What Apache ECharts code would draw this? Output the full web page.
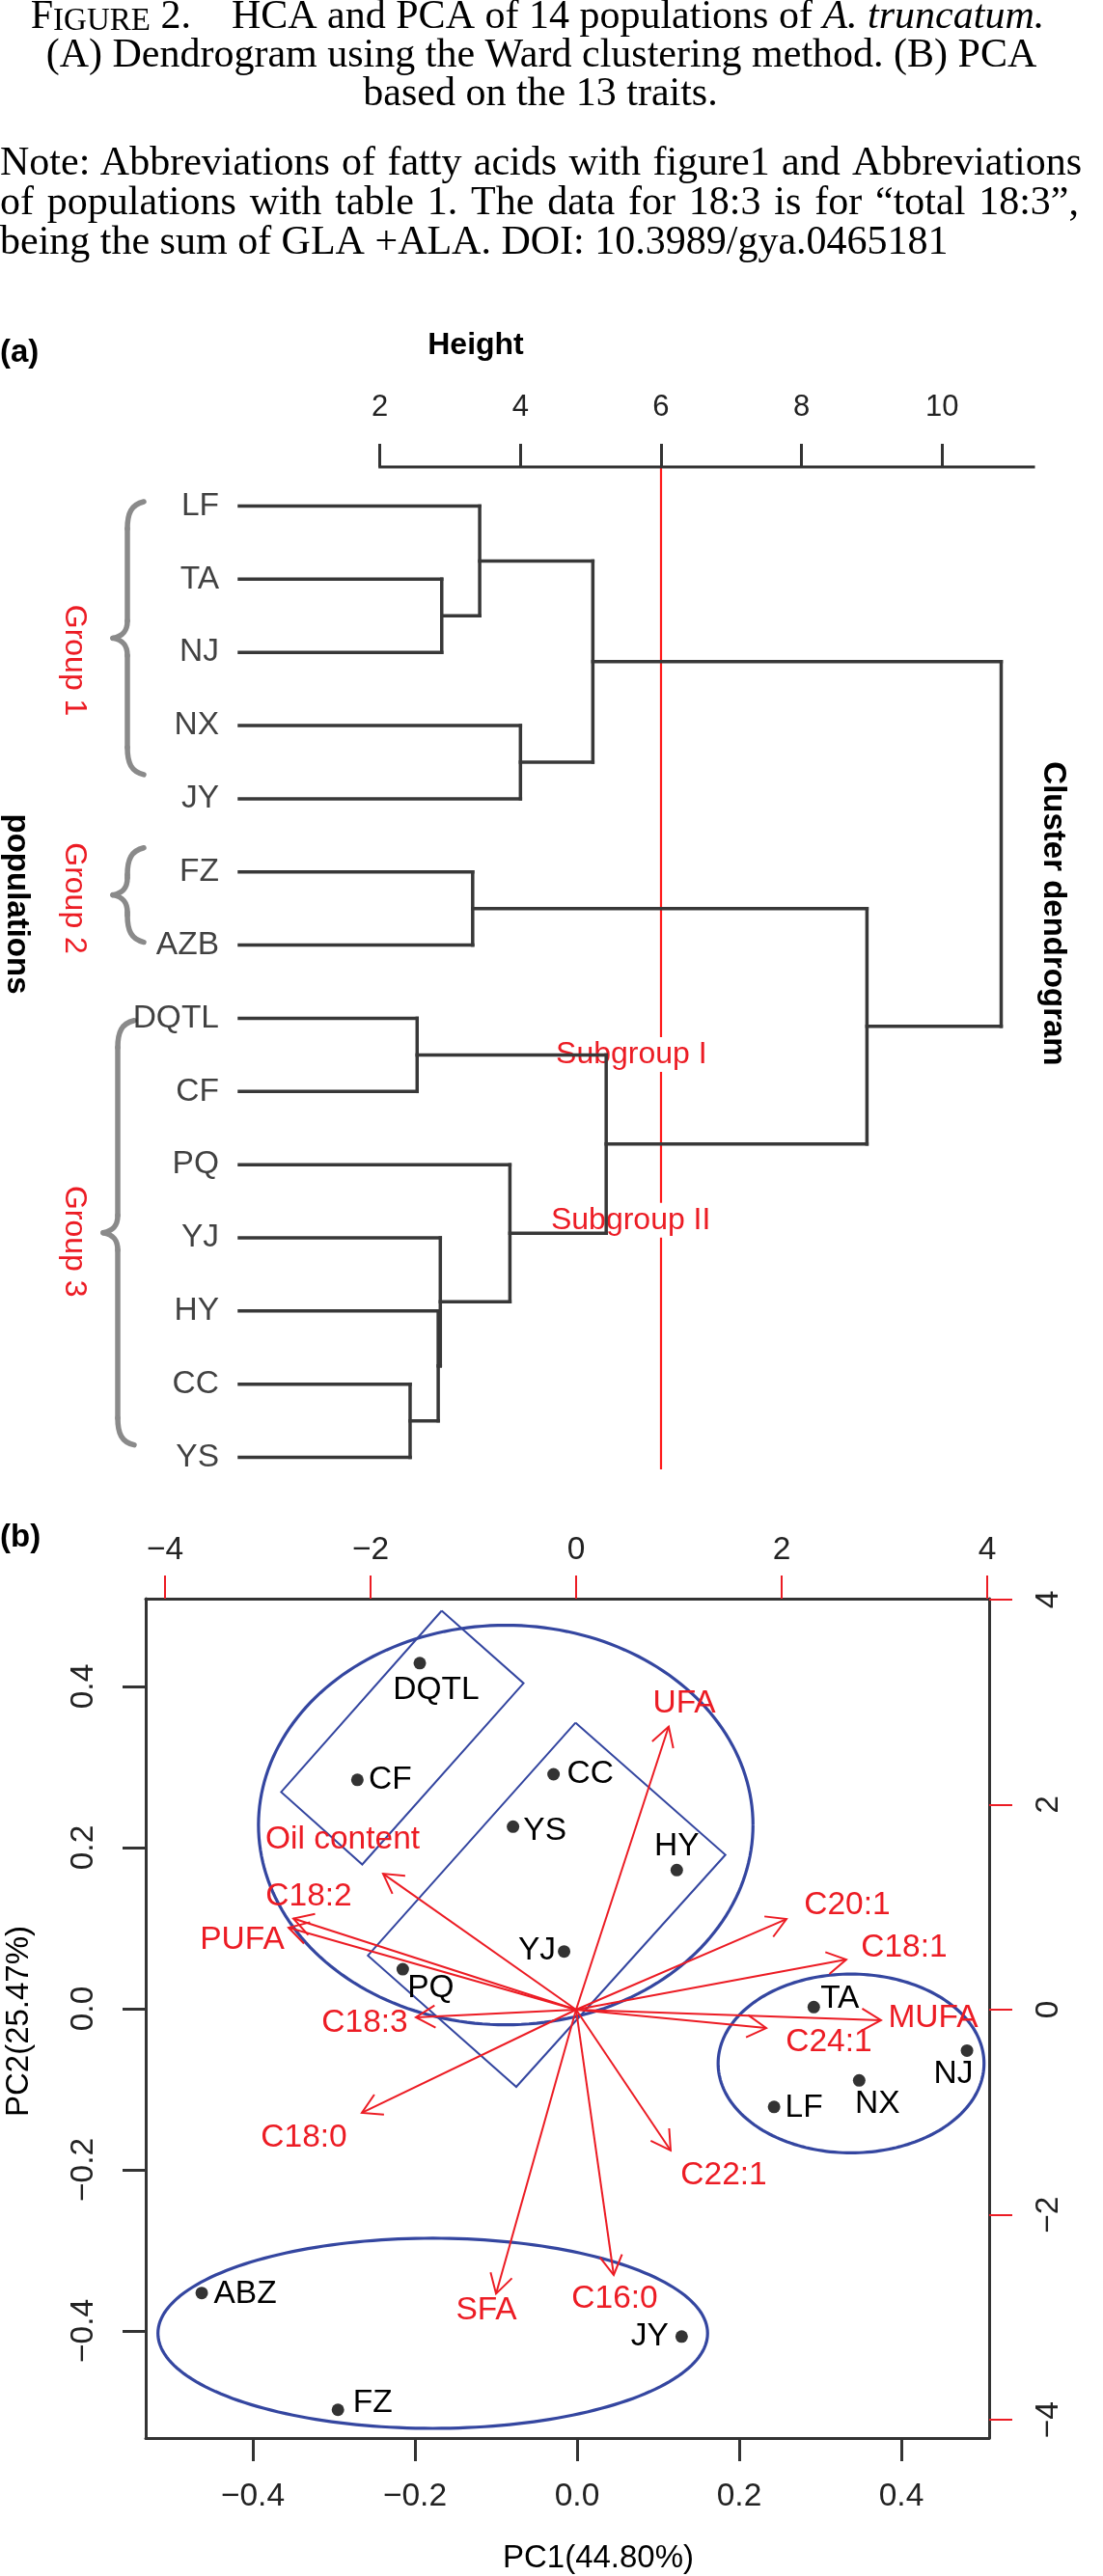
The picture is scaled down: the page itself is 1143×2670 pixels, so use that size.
<!DOCTYPE html>
<html><head><meta charset="utf-8">
<script src="https://cdn.jsdelivr.net/npm/echarts@6/dist/echarts.min.js"></script>
<style>html,body{margin:0;padding:0;background:#fff}#c{width:1143px;height:2670px}</style>
</head><body><div id="c"></div><script>
// ================= DATA =================
// (a) dendrogram
const leaves = ['LF','TA','NJ','NX','JY','FZ','AZB','DQTL','CF','PQ','YJ','HY','CC','YS'];
// merges: [childA, childB, height]; string = leaf, number = index of an earlier merge
const merges = [
  ['TA','NJ',2.88],
  ['LF',0,3.42],
  ['NX','JY',4.00],
  [1,2,5.03],
  ['FZ','AZB',3.32],
  ['DQTL','CF',2.53],
  ['CC','YS',2.43],
  ['HY',6,2.83],
  ['YJ',7,2.86],
  ['PQ',8,3.85],
  [5,9,5.22],
  [4,10,8.93],
  [3,11,10.84]
];
const heightTicks = [2,4,6,8,10];
const heightMax = 11.3;
const cutHeight = 6;
const groupNames = ['Group 1','Group 2','Group 3'];
const groupLabelPos = [2.11, 5.36, 10.05];           // in leaf units
const braceSpans = [[-0.06,3.67],[4.67,5.96],[7.03,12.83]];
const subgroupNames = ['Subgroup I','Subgroup II'];
const subgroupPos = [[5.58,7.495],[5.57,9.76]];      // [height, leaf units]

// (b) PCA biplot
const populations = ['DQTL','CF','YS','CC','HY','YJ','PQ','TA','NJ','NX','LF','JY','ABZ','FZ'];
const pc1 = [-0.194,-0.271,-0.079,-0.029,0.123,-0.016,-0.215,0.292,0.481,0.348,0.243,0.129,-0.463,-0.295];
const pc2 = [0.429,0.284,0.226,0.291,0.172,0.071,0.049,0.002,-0.052,-0.089,-0.122,-0.407,-0.353,-0.498];
const traits = ['Oil content','C18:2','PUFA','C18:3','C18:0','SFA','C16:0','C22:1','UFA','C20:1','C18:1','MUFA','C24:1'];
const loadX = [-1.878,-2.751,-2.798,-1.559,-2.085,-0.779,0.366,0.920,0.901,2.047,2.629,2.967,1.850];
const loadY = [1.326,0.889,0.800,-0.075,-1.006,-2.770,-2.587,-1.373,2.761,0.884,0.489,-0.103,-0.179];
const traitLabelX = [-2.272,-2.601,-3.249,-2.056,-2.648,-0.873,0.376,1.437,1.052,2.638,3.192,3.474,2.460];
const traitLabelY = [1.656,1.101,0.677,-0.132,-1.251,-2.935,-2.822,-1.618,2.982,1.016,0.602,-0.085,-0.320];
// ellipses [cx, cy, rx, ry] in PC units
const ellipses = [[-0.088,0.228,0.305,0.248],[0.338,-0.068,0.164,0.111],[-0.178,-0.403,0.339,0.118]];
// rectangles: 4 vertices in PC units
const rects = [
  [-0.167,0.494, -0.066,0.404, -0.265,0.179, -0.365,0.269],
  [-0.002,0.355, 0.183,0.191, -0.075,-0.097, -0.258,0.066]
];
const pcTicks = [-0.4,-0.2,0,0.2,0.4];
const loadTicks = [-4,-2,0,2,4];
const pcRangeX = [-0.5321,0.5083], pcRangeY = [-0.533,0.509];
const loadRangeX = [-4.188,4.019], loadRangeY = [-4.177,4.008];

// ================= STYLE =================
const SANS = '"Liberation Sans", Arial, Helvetica, sans-serif';
const SERIF = '"Liberation Serif", "Times New Roman", serif';
const RED = '#ec1c24', BLUE = '#3446a0', DARK = '#333333';
const braceShift = [0, 0, -10];
const labelOffsets = {DQTL:[17,28],CF:[34,0],YS:[33,4],CC:[38,0],HY:[0,-25],YJ:[-28,-1],PQ:[29,20],
  TA:[27,-9],NJ:[-14,24],NX:[19,24],LF:[31,1],JY:[-33,0],ABZ:[45,1],FZ:[36,-7]};

// ================= TEXT BLOCK (caption) =================
const graphics = [];
function addText(text, x, y, o){
  o = o || {};
  const al = o.align || 'center', va = o.va || 'middle';
  const st = {text, fill: o.fill || '#000', font: o.font, align: al, textAlign: al, verticalAlign: va, textVerticalAlign: va};
  if (o.rich) st.rich = o.rich;
  graphics.push({type:'text', x, y, rotation: o.rotation || 0, silent:true, z:100, style: st});
}
const mctx = document.createElement('canvas').getContext('2d');
function measure(t, font){ mctx.font = font; return mctx.measureText(t).width; }
function justify(words, x0, x1, y, font){
  const ws = words.map(w => measure(w, font));
  const tot = ws.reduce((a,b)=>a+b,0);
  const gap = (x1 - x0 - tot) / (words.length - 1);
  let x = x0;
  words.forEach((w,i)=>{ addText(w, x, y, {font, align:'left'}); x += ws[i] + gap; });
}
const CAP = '42px ' + SERIF;
addText('{r|F}{s|IGURE}{r| 2.\u2003HCA and PCA of 14 populations of }{i|A. truncatum.}', 557, 18, {
  font: CAP,
  rich: {
    r:{fontFamily:SERIF, fontSize:42, verticalAlign:'bottom', fill:'#000', color:'#000'},
    s:{fontFamily:SERIF, fontSize:33, verticalAlign:'bottom', fill:'#000', color:'#000'},
    i:{fontFamily:SERIF, fontSize:42, fontStyle:'italic', verticalAlign:'bottom', fill:'#000', color:'#000'}
  }
});
addText('(A) Dendrogram using the Ward clustering method. (B) PCA', 561, 58, {font:CAP});
addText('based on the 13 traits.', 560, 98, {font:CAP});
justify(['Note: Abbreviations','of','fatty','acids','with','figure1','and','Abbreviations'], 0, 1121, 170, CAP);
justify(['of','populations','with','table','1.','The','data','for','18:3','is','for','\u201ctotal','18:3\u201d,'], 0, 1118, 211, CAP);
addText('being the sum of GLA +ALA. DOI: 10.3989/gya.0465181', 0, 252, {font:CAP, align:'left'});

// panel titles
addText('(a)', 0, 366, {font:'bold 33px ' + SANS, align:'left'});
addText('Height', 493, 358, {font:'bold 32px ' + SANS});
addText('populations', 17, 937, {font:'bold 33px ' + SANS, rotation:-Math.PI/2});
addText('Cluster dendrogram', 1091, 947, {font:'bold 33px ' + SANS, rotation:-Math.PI/2});
addText('(b)', 0, 1594, {font:'bold 33px ' + SANS, align:'left'});
addText('PC1(44.80%)', 620, 2652, {font:'33px ' + SANS});
addText('PC2(25.47%)', 20, 2095, {font:'33px ' + SANS, rotation:Math.PI/2});

// ================= DENDROGRAM GEOMETRY (from merges) =================
const leafIndex = {}; leaves.forEach((l,i)=>leafIndex[l]=i);
const nodes = [], segs = [];
function info(c){ return typeof c === 'string' ? {y: leafIndex[c], h: 0} : nodes[c]; }
merges.forEach(([a,b,h])=>{
  const A = info(a), B = info(b);
  segs.push([A.h, A.y, h, A.y]);
  segs.push([B.h, B.y, h, B.y]);
  segs.push([h, A.y, h, B.y]);
  nodes.push({y:(A.y+B.y)/2, h});
});
const yMinD = -0.534, yMaxD = 13.2;

function lineEl(p1, p2, stroke, w){
  return {type:'line', shape:{x1:p1[0],y1:p1[1],x2:p2[0],y2:p2[1]}, style:{stroke, lineWidth:w, lineCap:'square'}};
}
const fmtPC = v => (v < 0 ? '\u2212' : '') + Math.abs(v).toFixed(1);
const fmtInt = v => (v < 0 ? '\u2212' : '') + Math.abs(v);

const axisLabelBase = {fontFamily:SANS, fontSize:33.5, color:'#222'};

const option = {
  animation:false,
  backgroundColor:'#fff',
  grid:[
    {left:248, top:484, width:823, height:(yMaxD - yMinD)*75.85},
    {left:151, top:1657, width:874, height:870}
  ],
  xAxis:[
    {gridIndex:0, type:'value', position:'top', min:0, max:heightMax,
      axisLine:{show:false, onZero:false}, splitLine:{show:false},
      axisTick:{show:true, customValues:heightTicks, length:24, lineStyle:{color:DARK, width:3}},
      axisLabel:{show:true, customValues:heightTicks, margin:46, fontFamily:SANS, fontSize:31, color:'#222'}},
    {gridIndex:1, type:'value', position:'bottom', min:pcRangeX[0], max:pcRangeX[1],
      axisLine:{show:true, onZero:false, lineStyle:{color:DARK, width:3}}, splitLine:{show:false},
      axisTick:{show:true, customValues:pcTicks, length:24, lineStyle:{color:DARK, width:3}},
      axisLabel:Object.assign({customValues:pcTicks, margin:44, formatter:fmtPC}, axisLabelBase)},
    {gridIndex:1, type:'value', position:'top', min:loadRangeX[0], max:loadRangeX[1],
      axisLine:{show:true, onZero:false, lineStyle:{color:DARK, width:3}}, splitLine:{show:false},
      axisTick:{show:true, customValues:loadTicks, length:24, lineStyle:{color:RED, width:2}},
      axisLabel:Object.assign({customValues:loadTicks, margin:33, formatter:fmtInt}, axisLabelBase)}
  ],
  yAxis:[
    {gridIndex:0, type:'value', inverse:true, min:yMinD, max:yMaxD, show:false,
      axisLine:{onZero:false}, splitLine:{show:false}},
    {gridIndex:1, type:'value', position:'left', min:pcRangeY[0], max:pcRangeY[1],
      axisLine:{show:true, onZero:false, lineStyle:{color:DARK, width:3}}, splitLine:{show:false},
      axisTick:{show:true, customValues:pcTicks, length:24, lineStyle:{color:DARK, width:3}},
      axisLabel:Object.assign({customValues:pcTicks, margin:47, rotate:90, formatter:fmtPC}, axisLabelBase)},
    {gridIndex:1, type:'value', position:'right', min:loadRangeY[0], max:loadRangeY[1],
      axisLine:{show:true, onZero:false, lineStyle:{color:DARK, width:3}}, splitLine:{show:false},
      axisTick:{show:true, customValues:loadTicks, length:24, lineStyle:{color:RED, width:2}},
      axisLabel:Object.assign({customValues:loadTicks, margin:45, rotate:90, formatter:fmtInt}, axisLabelBase)}
  ],
  graphic: graphics,
  series:[
    // --- dendrogram: cut line
    {type:'custom', xAxisIndex:0, yAxisIndex:0, z:2, silent:true, data:[[cutHeight, yMinD, 13.15]],
      renderItem:(p, api)=>lineEl(api.coord([api.value(0), api.value(1)]), api.coord([api.value(0), api.value(2)]), '#ff1a1a', 2.2)},
    // --- dendrogram: subgroup labels (white background over the cut line)
    {type:'custom', xAxisIndex:0, yAxisIndex:0, z:3, silent:true, data:subgroupPos.map((s,i)=>[s[0], s[1], i]),
      renderItem:(p, api)=>{ const c = api.coord([api.value(0), api.value(1)]);
        return {type:'text', x:c[0], y:c[1], style:{text:subgroupNames[api.value(2)], fill:RED, fontFamily:SANS, fontSize:32,
          align:'center', verticalAlign:'middle', backgroundColor:'#fff', padding:[2,2]}}; }},
    // --- dendrogram branches
    {type:'custom', xAxisIndex:0, yAxisIndex:0, z:4, silent:true, data:segs,
      renderItem:(p, api)=>lineEl(api.coord([api.value(0), api.value(1)]), api.coord([api.value(2), api.value(3)]), '#383838', 3.5)},
    // --- height axis line
    {type:'custom', xAxisIndex:0, yAxisIndex:0, z:4, silent:true, data:[[heightTicks[0], heightMax, yMinD]],
      renderItem:(p, api)=>lineEl(api.coord([api.value(0), api.value(2)]), api.coord([api.value(1), api.value(2)]), DARK, 3)},
    // --- braces
    {type:'custom', xAxisIndex:0, yAxisIndex:0, z:4, silent:true, data:braceSpans,
      renderItem:(p, api)=>{
        const x0 = api.coord([0,0])[0] + braceShift[p.dataIndex];
        const T = api.coord([0, api.value(0)])[1], B = api.coord([0, api.value(1)])[1], M = (T+B)/2;
        const st = x0-116, tp = x0-131, en = x0-99;
        const s = {stroke:'#8a8a8a', lineWidth:5.5, fill:null, lineCap:'round'};
        const bz = (a,b,c,d)=>({type:'bezierCurve', shape:{x1:a[0],y1:a[1],cpx1:b[0],cpy1:b[1],cpx2:c[0],cpy2:c[1],x2:d[0],y2:d[1]}, style:s});
        return {type:'group', children:[
          bz([en,T],[st+4,T+3],[st,T+12],[st,T+28]),
          {type:'line', shape:{x1:st,y1:T+28,x2:st,y2:M-18}, style:s},
          bz([st,M-18],[st,M-7],[st-5,M-2],[tp,M]),
          bz([tp,M],[st-5,M+2],[st,M+7],[st,M+18]),
          {type:'line', shape:{x1:st,y1:M+18,x2:st,y2:B-28}, style:s},
          bz([st,B-28],[st,B-12],[st+4,B-3],[en,B])
        ]};
      }},
    // --- group labels
    {type:'custom', xAxisIndex:0, yAxisIndex:0, z:5, silent:true, data:groupLabelPos.map((y,i)=>[-2.349, y, i]),
      renderItem:(p, api)=>{ const c = api.coord([api.value(0), api.value(1)]);
        return {type:'text', x:c[0], y:c[1], rotation:-Math.PI/2, style:{text:groupNames[api.value(2)], fill:RED, fontFamily:SANS, fontSize:32, align:'center', verticalAlign:'middle'}}; }},
    // --- leaf labels
    {type:'scatter', xAxisIndex:0, yAxisIndex:0, z:5, silent:true, symbolSize:0,
      data:leaves.map((l,i)=>({name:l, value:[0,i]})),
      label:{show:true, position:'left', distance:21, formatter:'{b}', fontFamily:SANS, fontSize:33.5, color:'#111'}},

    // --- PCA: ellipses
    {type:'custom', xAxisIndex:1, yAxisIndex:1, z:3, silent:true, data:ellipses,
      renderItem:(p, api)=>{ const c = api.coord([api.value(0), api.value(1)]); const s = api.size([api.value(2), api.value(3)]);
        const pts = []; for (let k=0;k<=200;k++){ const t = k/200*2*Math.PI; pts.push([c[0]+s[0]*Math.cos(t), c[1]+s[1]*Math.sin(t)]); }
        return {type:'polyline', shape:{points:pts}, style:{stroke:BLUE, lineWidth:3.2, fill:null}}; }},
    // --- PCA: rectangles
    {type:'custom', xAxisIndex:1, yAxisIndex:1, z:3, silent:true, data:rects,
      renderItem:(p, api)=>{ const pts = []; for (let k=0;k<5;k++){ const j = k%4; pts.push(api.coord([api.value(2*j), api.value(2*j+1)])); }
        return {type:'polyline', shape:{points:pts}, style:{stroke:BLUE, lineWidth:2, fill:null, lineJoin:'miter'}}; }},
    // --- PCA: loading arrows
    {type:'custom', xAxisIndex:2, yAxisIndex:2, z:4, silent:true, data:loadX.map((x,i)=>[x, loadY[i]]),
      renderItem:(p, api)=>{ const o = api.coord([0,0]); const t = api.coord([api.value(0), api.value(1)]);
        const ang = Math.atan2(t[1]-o[1], t[0]-o[0]); const L = 23, a = Math.PI/6;
        const h1 = [t[0]-L*Math.cos(ang-a), t[1]-L*Math.sin(ang-a)], h2 = [t[0]-L*Math.cos(ang+a), t[1]-L*Math.sin(ang+a)];
        const s = {stroke:RED, lineWidth:2, fill:null};
        return {type:'group', children:[
          {type:'line', shape:{x1:o[0],y1:o[1],x2:t[0],y2:t[1]}, style:s},
          {type:'polyline', shape:{points:[h1,t,h2]}, style:s}
        ]}; }},
    // --- PCA: trait labels
    {type:'custom', xAxisIndex:2, yAxisIndex:2, z:5, silent:true, data:traitLabelX.map((x,i)=>[x, traitLabelY[i], i]),
      renderItem:(p, api)=>{ const c = api.coord([api.value(0), api.value(1)]);
        return {type:'text', x:c[0], y:c[1], style:{text:traits[api.value(2)], fill:RED, fontFamily:SANS, fontSize:33.5, align:'center', verticalAlign:'middle'}}; }},
    // --- PCA: population points
    {type:'scatter', xAxisIndex:1, yAxisIndex:1, z:6, silent:true, symbol:'circle', symbolSize:13,
      itemStyle:{color:'#000'}, data:pc1.map((x,i)=>[x, pc2[i]])},
    // --- PCA: population labels
    {type:'custom', xAxisIndex:1, yAxisIndex:1, z:6, silent:true, data:pc1.map((x,i)=>[x, pc2[i], i]),
      renderItem:(p, api)=>{ const c = api.coord([api.value(0), api.value(1)]); const name = populations[api.value(2)]; const off = labelOffsets[name];
        return {type:'text', x:c[0]+off[0], y:c[1]+off[1], style:{text:name, fill:'#000', fontFamily:SANS, fontSize:33.5, align:'center', verticalAlign:'middle'}}; }}
  ]
};
const chart = echarts.init(document.getElementById('c'), null, {renderer:'canvas', width:1143, height:2670});
chart.setOption(option);
</script></body></html>
